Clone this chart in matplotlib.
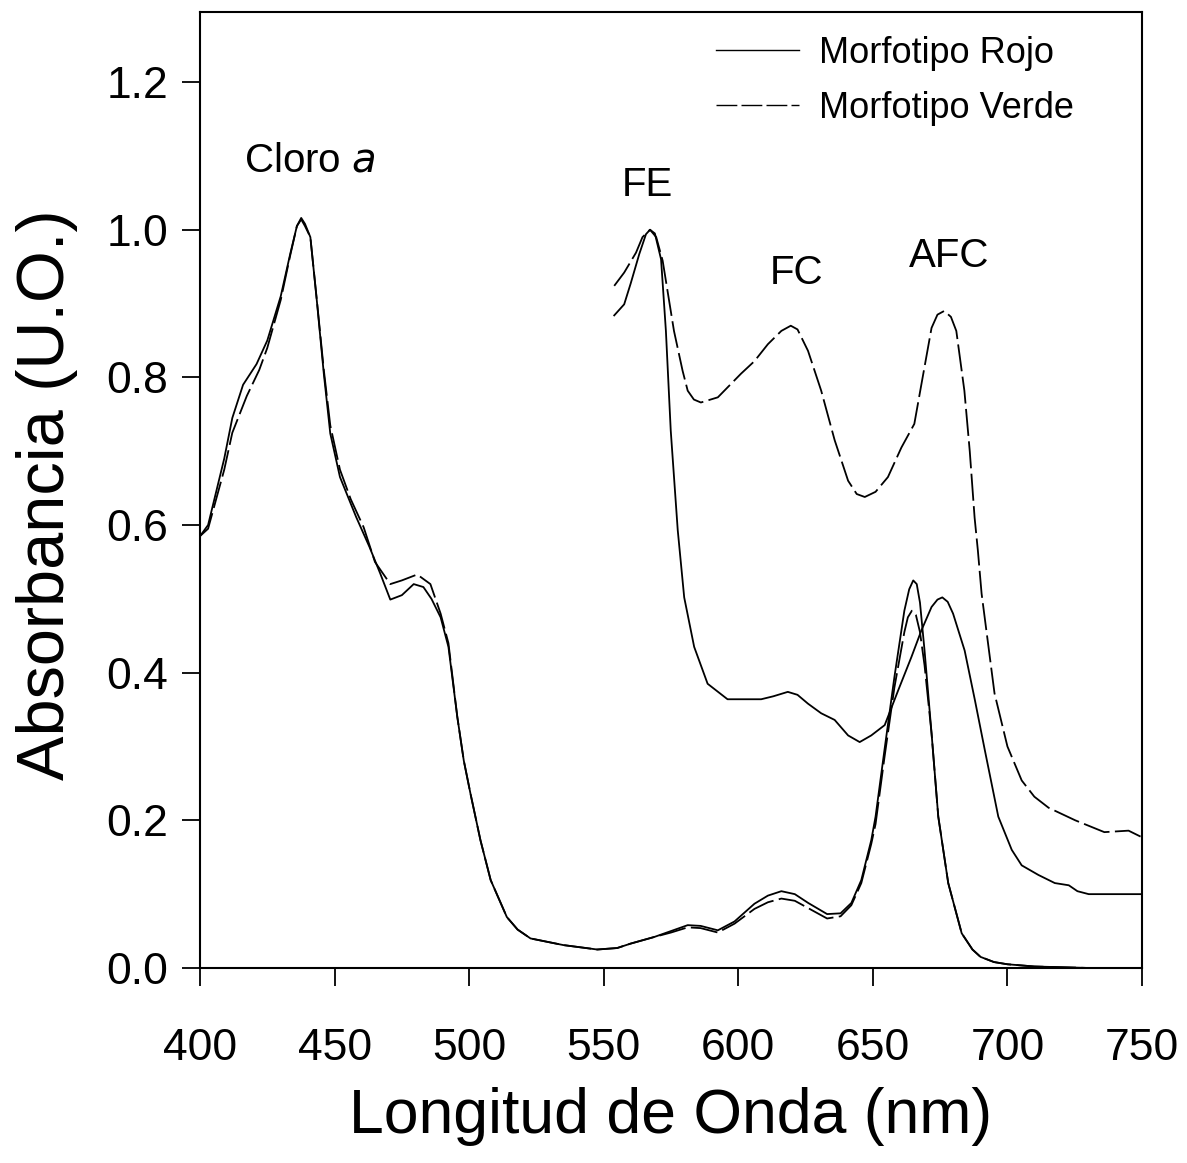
# Espectros de absorcion - Morfotipo Rojo vs Morfotipo Verde
import matplotlib
matplotlib.use('Agg')
import matplotlib.pyplot as plt

plt.rcParams['font.family'] = ['Liberation Sans', 'DejaVu Sans']

# Extracto de clorofila (400-750 nm)
wl_cloro_rojo = [400, 403, 406, 409, 412, 416, 421, 425, 430, 433.5, 436, 437.6, 439, 441,
                 443.4, 446, 448.4, 452, 458, 463, 467, 470.7, 475, 479.4, 483, 486, 489.4,
                 492.3, 495.6, 498, 500.5, 504.2, 508, 514, 518, 522.8, 535, 547.6, 555, 560,
                 568.8, 575, 581.2, 586, 592.4, 598.6, 606, 611, 616, 621, 626, 633, 638, 642,
                 645.7, 649.4, 651, 654.3, 658, 661.7, 663.5, 665, 666.3, 667.5, 669.2, 671.8,
                 674.3, 678, 683, 687, 690, 695, 700, 710, 730, 750]
abs_cloro_rojo = [0.585, 0.60, 0.645, 0.69, 0.745, 0.79, 0.818, 0.85, 0.91, 0.967, 1.005, 1.016,
                  1.008, 0.99, 0.904, 0.805, 0.724, 0.665, 0.611, 0.57, 0.534, 0.499, 0.505,
                  0.52, 0.516, 0.50, 0.475, 0.435, 0.34, 0.281, 0.236, 0.173, 0.119, 0.069,
                  0.052, 0.040, 0.031, 0.025, 0.027, 0.033, 0.042, 0.05, 0.058, 0.057, 0.051,
                  0.063, 0.087, 0.098, 0.104, 0.100, 0.088, 0.073, 0.074, 0.088, 0.119, 0.173,
                  0.205, 0.295, 0.394, 0.484, 0.513, 0.525, 0.52, 0.495, 0.43, 0.318, 0.205,
                  0.115, 0.047, 0.025, 0.015, 0.008, 0.005, 0.002, 0.0, 0.0]

wl_cloro_verde = [400, 403, 406, 409, 412, 417.4, 422, 425, 430, 433.5, 436, 437.6, 439, 441,
                  443.4, 446, 448.4, 452, 456, 460.8, 465, 470.7, 475, 480.7, 485.6, 489.4,
                  492.3, 495.6, 498, 500.5, 504.2, 508, 514, 518, 522.8, 535, 547.6, 555, 560,
                  568.8, 575, 581.2, 586, 592.4, 598.6, 606, 611, 616, 621, 626, 633, 638, 642,
                  645.7, 649.4, 651, 654.3, 658, 661.7, 663, 664.5, 666, 667.5, 669.2, 671.8,
                  674.3, 678, 683, 687, 690, 695, 700, 710, 730, 750]
abs_cloro_verde = [0.585, 0.595, 0.635, 0.675, 0.725, 0.775, 0.81, 0.84, 0.905, 0.965, 1.005,
                   1.014, 1.005, 0.99, 0.905, 0.81, 0.735, 0.675, 0.635, 0.597, 0.55, 0.52,
                   0.525, 0.533, 0.52, 0.48, 0.44, 0.34, 0.281, 0.236, 0.173, 0.119, 0.069,
                   0.052, 0.040, 0.031, 0.025, 0.027, 0.033, 0.042, 0.048, 0.055, 0.054, 0.048,
                   0.06, 0.08, 0.089, 0.094, 0.091, 0.081, 0.067, 0.07, 0.085, 0.115, 0.168,
                   0.195, 0.285, 0.38, 0.455, 0.475, 0.484, 0.478, 0.455, 0.41, 0.318, 0.205,
                   0.115, 0.047, 0.025, 0.015, 0.008, 0.005, 0.002, 0.0, 0.0]

# Extracto de ficobiliproteinas (554-750 nm)
wl_fico_rojo = [553.9, 557.6, 560, 563.2, 565.7, 567.2, 569, 571.3, 573.1, 574.9, 577.5, 579.9,
                583.6, 588.6, 596, 608.5, 613, 618.4, 622, 625.9, 630.8, 635.8, 640.8, 645.1,
                649.4, 654.4, 659.4, 664.3, 668, 671.8, 674, 675.8, 677.8, 679.8, 684.1, 687.9,
                691.6, 696.6, 701.6, 705.3, 711.5, 717.6, 722.8, 726, 730.2, 740, 750]
abs_fico_rojo = [0.884, 0.899, 0.927, 0.967, 0.994, 1.0, 0.995, 0.96, 0.863, 0.728, 0.593, 0.502,
                 0.435, 0.385, 0.364, 0.364, 0.368, 0.374, 0.37, 0.358, 0.345, 0.336, 0.315,
                 0.306, 0.315, 0.329, 0.376, 0.421, 0.457, 0.489, 0.499, 0.502, 0.496, 0.48,
                 0.43, 0.363, 0.295, 0.205, 0.16, 0.139, 0.126, 0.115, 0.112, 0.104, 0.10,
                 0.10, 0.10]

wl_fico_verde = [553.9, 557.6, 562, 564.4, 567.2, 569.5, 571.9, 576.1, 579.3, 581.2, 583.5,
                 586.1, 592.4, 601, 606, 611, 616, 619.5, 622, 625.9, 630.8, 635.8, 640.8, 644,
                 647, 651, 655.6, 660.6, 665.4, 668, 671.8, 674, 676.5, 679, 681, 684, 686,
                 687.8, 689, 690.4, 695.2, 700, 705.3, 710, 715.3, 725.2, 736, 745, 750]
abs_fico_verde = [0.924, 0.942, 0.969, 0.99, 1.0, 0.99, 0.958, 0.863, 0.809, 0.782, 0.77, 0.766,
                  0.773, 0.805, 0.822, 0.845, 0.863, 0.87, 0.865, 0.836, 0.782, 0.715, 0.66,
                  0.642, 0.638, 0.645, 0.665, 0.705, 0.737, 0.79, 0.867, 0.885, 0.89, 0.882,
                  0.863, 0.782, 0.70, 0.61, 0.566, 0.507, 0.372, 0.30, 0.254, 0.232, 0.217,
                  0.20, 0.184, 0.186, 0.177]

# Etiquetas de los picos
picos = ['Cloro $\\mathit{a}$', 'FE', 'FC', 'AFC']
picos_x = [440.9, 566.2, 621.6, 678.4]
picos_y = [1.094, 1.061, 0.942, 0.965]

fig = plt.figure(figsize=(11.87, 11.63), dpi=100)
ax = fig.add_axes([0.1685, 0.1677, 0.7936, 0.822])

lw = 1.3
dash = (15, 3)
ax.plot(wl_cloro_rojo, abs_cloro_rojo, color='black', lw=lw, label='Morfotipo Rojo')
ax.plot(wl_cloro_verde, abs_cloro_verde, color='black', lw=lw, dashes=dash,
        label='Morfotipo Verde')
ax.plot(wl_fico_rojo, abs_fico_rojo, color='black', lw=lw)
ax.plot(wl_fico_verde, abs_fico_verde, color='black', lw=lw, dashes=dash)

for txt, x, y in zip(picos, picos_x, picos_y):
    ax.text(x, y, txt, ha='center', va='center', fontsize=29)

ax.set_xlim(400, 750)
ax.set_ylim(0, 1.295)
ax.set_xticks(range(400, 751, 50))
ax.set_yticks([0.0, 0.2, 0.4, 0.6, 0.8, 1.0, 1.2])
ax.set_yticklabels(['0.0', '0.2', '0.4', '0.6', '0.8', '1.0', '1.2'])
ax.tick_params(axis='x', direction='out', length=13, width=1.3, labelsize=32, pad=30)
ax.tick_params(axis='y', direction='out', length=13, width=1.3, labelsize=32, pad=10)
for s in ax.spines.values():
    s.set_linewidth(1.5)

ax.set_xlabel('Longitud de Onda (nm)', fontsize=45)
ax.set_ylabel('Absorbancia (U.O.)', fontsize=48)
ax.xaxis.set_label_coords(0.5, -0.124)
ax.yaxis.set_label_coords(-0.13, 0.495)

leg = ax.legend(loc='upper left', bbox_to_anchor=(0.548, 0.975), frameon=False,
                fontsize=26, handlelength=2.3, handletextpad=0.55, labelspacing=0.55,
                borderpad=0, borderaxespad=0)
for h in leg.get_lines():
    h.set_linewidth(1.0)

fig.savefig('out.png', dpi=100)
